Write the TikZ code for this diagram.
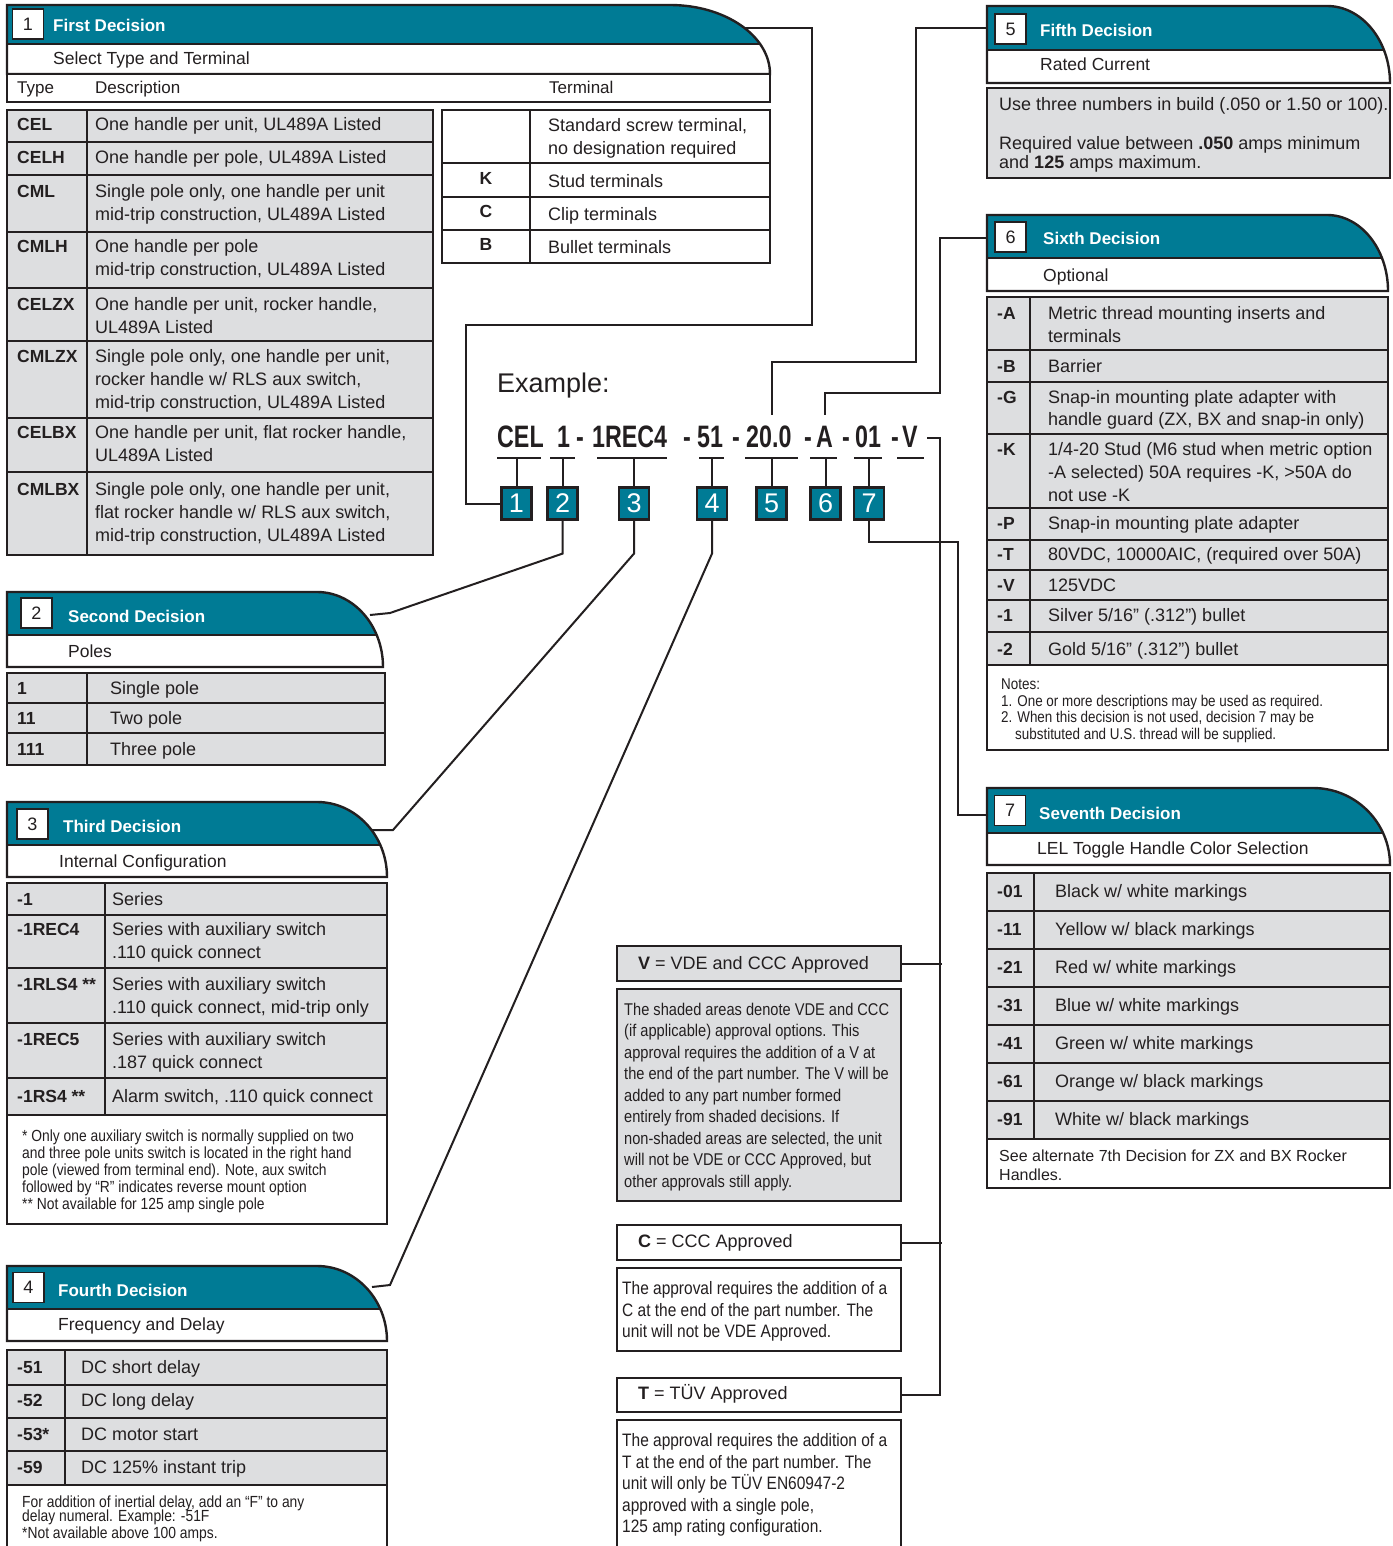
\documentclass[tikz,border=0pt]{standalone}
\usepackage{fontspec}
\setmainfont{Liberation Sans}
\newfontfamily\narrowfont[FakeStretch=0.86]{Liberation Sans}
\newfontfamily\condfont[FakeStretch=0.75]{Liberation Sans}
\definecolor{decteal}{RGB}{0,123,149}
\definecolor{cellgray}{RGB}{221,222,224}
\definecolor{ink}{RGB}{35,31,32}
\tikzset{
 outer/.style={draw=ink, line width=2.4pt},
 rule/.style={draw=ink, line width=1.3pt},
 conn/.style={draw=ink, line width=2pt},
 txt/.style={anchor=base west, inner sep=0pt, text=ink, font=\fontsize{18}{22}\selectfont},
 code/.style={txt, font=\fontsize{17.5}{22}\selectfont\bfseries},
 ttl/.style={txt, text=white, font=\fontsize{17}{20}\selectfont\bfseries},
 sub/.style={txt, font=\fontsize{17.5}{20}\selectfont},
 note/.style={txt, font=\narrowfont\fontsize{16.1}{18}\selectfont},
 desc/.style={txt, font=\narrowfont\fontsize{18}{21}\selectfont},
 vdesc/.style={txt, font=\narrowfont\fontsize{17}{21}\selectfont},
 numbox/.style={draw=ink, line width=1.2pt, fill=white, minimum width=31pt, minimum height=30pt, inner sep=0pt, text=ink, font=\fontsize{18}{18}\selectfont},
 exbox/.style={draw=ink, line width=2.2pt, fill=decteal, minimum width=30pt, minimum height=32pt, inner sep=0pt, text=white, font=\fontsize{27}{27}\selectfont},
 pn/.style={txt, font=\condfont\bfseries\fontsize{31}{31}\selectfont},
 mbox/.style={draw=ink, line width=2.4pt, anchor=north west, inner sep=0pt, minimum width=284pt},
}
\newcounter{tn}
\newcommand\ptxt[4][]{\stepcounter{tn}\node[txt,#1] (tx\arabic{tn}) at (#2,#3) {#4};}
% header: x1, ytop, x2, yteal, ybottom, rx
\newcommand\dechead[6]{%
 \fill[white] (#1,#2) -- ({#3-#6},#2) .. controls ({#3-0.448*#6},#2) and (#3,{#5-0.552*(#5-#2)}) .. (#3,#5) -- (#1,#5) -- cycle;
 \begin{scope}
 \clip (#1,#2) -- ({#3-#6},#2) .. controls ({#3-0.448*#6},#2) and (#3,{#5-0.552*(#5-#2)}) .. (#3,#5) -- (#1,#5) -- cycle;
 \fill[decteal] (#1,#2) rectangle (#3,#4);
 \draw[outer] (#1,#4) -- (#3,#4);
 \end{scope}
 \draw[outer] (#1,#2) -- ({#3-#6},#2) .. controls ({#3-0.448*#6},#2) and (#3,{#5-0.552*(#5-#2)}) .. (#3,#5) -- (#1,#5) -- cycle;
}
\newcommand\gtab[4]{\fill[cellgray] (#1,#2) rectangle (#3,#4);}
\begin{document}
\begin{tikzpicture}[x=1pt,y=-1pt]
\useasboundingbox (0,0) rectangle (1392,1546);
\clip (0,0) rectangle (1392,1546);
\fill[white] (0,0) rectangle (1392,1546);

% ---------- example part number ----------
\ptxt[font=\fontsize{27}{27}\selectfont]{497}{392}{Example:}
\ptxt[pn]{497}{447}{CEL}
\ptxt[pn]{557}{447}{1}
\ptxt[pn]{576}{447}{-}
\ptxt[pn]{592}{447}{1REC4}
\ptxt[pn]{683}{447}{-}
\ptxt[pn]{697}{447}{51}
\ptxt[pn]{732}{447}{-}
\ptxt[pn]{746}{447}{20.0}
\ptxt[pn]{804}{447}{-}
\ptxt[pn]{816}{447}{A}
\ptxt[pn]{842}{447}{-}
\ptxt[pn]{855}{447}{01}
\ptxt[pn]{891}{447}{-}
\ptxt[pn]{902}{447}{V}
\foreach \a/\b in {497/541,550/575,597/667,699/724,745/798,810/837,854/882,897/924}
  \draw[conn] (\a,458) -- (\b,458);

\node[exbox] (b1) at (516.5,503.5) {1};
\node[exbox] (b2) at (562.5,503.5) {2};
\node[exbox] (b3) at (634,503.5) {3};
\node[exbox] (b4) at (712,503.5) {4};
\node[exbox] (b5) at (771.5,503.5) {5};
\node[exbox] (b6) at (825.5,503.5) {6};
\node[exbox] (b7) at (869,503.5) {7};
\foreach \n in {1,...,7} \draw[conn] (b\n.north) -- ++(0,-29);

% ---------- middle approval boxes ----------
\node[mbox, fill=cellgray, minimum height=35pt] (vbox) at (616,945) {};
\node[mbox, fill=cellgray, minimum height=212pt] (vdesc) at (616,988) {};
\node[mbox, fill=white, minimum height=35pt] (cbox) at (616,1224) {};
\node[mbox, fill=white, minimum height=83pt] (cdesc) at (616,1267) {};
\node[mbox, fill=white, minimum height=34pt] (tbox) at (616,1377) {};
\node[mbox, fill=white, minimum height=160pt] (tdesc) at (616,1419) {};

% ---------- connector end points inside panels ----------
\coordinate (p1in) at (740,28);
\coordinate (p2in) at (370,615);
\coordinate (p3in) at (372,830);
\coordinate (p4in) at (372,1287);
\coordinate (p5in) at (992,28);
\coordinate (p6in) at (992,238);
\coordinate (p7in) at (992,815);
\coordinate (u5) at (772,415);
\coordinate (u6) at (825,415);
\coordinate (vend) at (927,438);

% ---------- connectors ----------
\draw[conn] (b1.west) -| (466,325) -| (812,28) -- (p1in);
\draw[conn] (b2.south) -- ++(0,33) -- (390,613) -- (p2in);
\draw[conn] (b3.south) -- ++(0,33) -- (393,830) -- (p3in);
\draw[conn] (b4.south) -- ++(0,33) -- (390,1285) -- (p4in);
\draw[conn] (p5in) -| (916,362) -| (u5);
\draw[conn] (p6in) -| (940,393) -| (u6);
\draw[conn] (b7.south) -- ++(0,21) -| (958,815) -- (p7in);
\draw[conn] (vend) -- (940,438) |- (tbox.east);
\draw[conn] (vbox.east) -- ++(40,0);
\draw[conn] (cbox.east) -- ++(40,0);

% ---------- Panel 1 ----------
\dechead{7}{5}{770}{44}{74}{100}
\node[numbox] (h1) at (28,24) {1};
\ptxt[ttl]{53}{32}{First Decision}
\ptxt[sub]{53}{65}{Select Type and Terminal}
\fill[white] (7,74) rectangle (770,102);
\draw[outer] (7,74) rectangle (770,102);
\ptxt[font=\fontsize{17}{20}\selectfont]{17}{94}{Type}
\ptxt[font=\fontsize{17}{20}\selectfont]{95}{94}{Description}
\ptxt[font=\fontsize{17}{20}\selectfont]{549}{94}{Terminal}

\gtab{7}{110}{433}{555}
\foreach \y in {142,175,232,288,341,418,472} \draw[rule] (7,\y) -- (433,\y);
\draw[rule] (87,110) -- (87,555);
\draw[outer] (7,110) rectangle (433,555);
\ptxt[code]{17}{131}{CEL} \ptxt{95}{131}{One handle per unit, UL489A Listed}
\ptxt[code]{17}{164}{CELH} \ptxt{95}{164}{One handle per pole, UL489A Listed}
\ptxt[code]{17}{198}{CML} \ptxt{95}{198}{Single pole only, one handle per unit}
\ptxt{95}{221}{mid-trip construction, UL489A Listed}
\ptxt[code]{17}{253}{CMLH} \ptxt{95}{253}{One handle per pole}
\ptxt{95}{276}{mid-trip construction, UL489A Listed}
\ptxt[code]{17}{310}{CELZX} \ptxt{95}{310}{One handle per unit, rocker handle,}
\ptxt{95}{333}{UL489A Listed}
\ptxt[code]{17}{362}{CMLZX} \ptxt{95}{362}{Single pole only, one handle per unit,}
\ptxt{95}{385}{rocker handle w/ RLS aux switch,}
\ptxt{95}{408}{mid-trip construction, UL489A Listed}
\ptxt[code]{17}{438}{CELBX} \ptxt{95}{438}{One handle per unit, flat rocker handle,}
\ptxt{95}{461}{UL489A Listed}
\ptxt[code]{17}{495}{CMLBX} \ptxt{95}{495}{Single pole only, one handle per unit,}
\ptxt{95}{518}{flat rocker handle w/ RLS aux switch,}
\ptxt{95}{541}{mid-trip construction, UL489A Listed}

\fill[white] (442,110) rectangle (770,263);
\foreach \y in {163,197,230} \draw[rule] (442,\y) -- (770,\y);
\draw[rule] (530,110) -- (530,263);
\draw[outer] (442,110) rectangle (770,263);
\ptxt{548}{132}{Standard screw terminal,}
\ptxt{548}{155}{no designation required}
\ptxt[code,anchor=base]{486}{185}{K} \ptxt{548}{188}{Stud terminals}
\ptxt[code,anchor=base]{486}{218}{C} \ptxt{548}{221}{Clip terminals}
\ptxt[code,anchor=base]{486}{251}{B} \ptxt{548}{254}{Bullet terminals}

% ---------- Panel 2 ----------
\dechead{7}{592}{383}{635}{667}{66}
\node[numbox] (h2) at (36.5,613) {2};
\ptxt[ttl]{68}{622}{Second Decision}
\ptxt[sub]{68}{657}{Poles}
\gtab{7}{673}{385}{765}
\foreach \y in {703,733} \draw[rule] (7,\y) -- (385,\y);
\draw[rule] (87,673) -- (87,765);
\draw[outer] (7,673) rectangle (385,765);
\ptxt[code]{17}{694}{1} \ptxt{110}{694}{Single pole}
\ptxt[code]{17}{724}{11} \ptxt{110}{724}{Two pole}
\ptxt[code]{17}{755}{111} \ptxt{110}{755}{Three pole}

% ---------- Panel 3 ----------
\dechead{7}{802}{387}{845}{877}{70}
\node[numbox] (h3) at (32.5,824) {3};
\ptxt[ttl]{63}{832}{Third Decision}
\ptxt[sub]{59}{867}{Internal Configuration}
\fill[white] (7,883) rectangle (387,1224);
\gtab{7}{883}{387}{1115}
\foreach \y in {915,968,1023,1078,1115} \draw[rule] (7,\y) -- (387,\y);
\draw[rule] (105,883) -- (105,1115);
\draw[outer] (7,883) rectangle (387,1224);
\ptxt[code]{17}{905}{-1} \ptxt{112}{905}{Series}
\ptxt[code]{17}{935}{-1REC4} \ptxt{112}{935}{Series with auxiliary switch}
\ptxt{112}{958}{.110 quick connect}
\ptxt[code]{17}{990}{-1RLS4 **} \ptxt{112}{990}{Series with auxiliary switch}
\ptxt{112}{1013}{.110 quick connect, mid-trip only}
\ptxt[code]{17}{1045}{-1REC5} \ptxt{112}{1045}{Series with auxiliary switch}
\ptxt{112}{1068}{.187 quick connect}
\ptxt[code]{17}{1102}{-1RS4 **} \ptxt{112}{1102}{Alarm switch, .110 quick connect}
\ptxt[note]{22}{1141}{* Only one auxiliary switch is normally supplied on two}
\ptxt[note]{22}{1158}{and three pole units switch is located in the right hand}
\ptxt[note]{22}{1175}{pole (viewed from terminal end).  Note, aux switch}
\ptxt[note]{22}{1192}{followed by “R” indicates reverse mount option}
\ptxt[note]{22}{1209}{** Not available for 125 amp single pole}

% ---------- Panel 4 ----------
\dechead{7}{1266}{387}{1309}{1341}{70}
\node[numbox] (h4) at (28.5,1287.5) {4};
\ptxt[ttl]{58}{1296}{Fourth Decision}
\ptxt[sub]{58}{1330}{Frequency and Delay}
\fill[white] (7,1350) rectangle (387,1560);
\gtab{7}{1350}{387}{1485}
\foreach \y in {1385,1418,1451,1485} \draw[rule] (7,\y) -- (387,\y);
\draw[rule] (65,1350) -- (65,1485);
\draw[outer] (7,1350) rectangle (387,1560);
\ptxt[code]{17}{1373}{-51} \ptxt{81}{1373}{DC short delay}
\ptxt[code]{17}{1406}{-52} \ptxt{81}{1406}{DC long delay}
\ptxt[code]{17}{1440}{-53*} \ptxt{81}{1440}{DC motor start}
\ptxt[code]{17}{1473}{-59} \ptxt{81}{1473}{DC 125\% instant trip}
\ptxt[note]{22}{1507}{For addition of inertial delay, add an “F” to any}
\ptxt[note]{22}{1521}{delay numeral.  Example:  -51F}
\ptxt[note]{22}{1538}{*Not available above 100 amps.}

% ---------- Panel 5 ----------
\dechead{987}{6}{1390}{50}{83}{63}
\node[numbox] (h5) at (1010.5,29) {5};
\ptxt[ttl]{1040}{37}{Fifth Decision}
\ptxt[sub]{1040}{71}{Rated Current}
\gtab{987}{88}{1390}{178}
\draw[outer] (987,88) rectangle (1390,178);
\ptxt{999}{111}{Use three numbers in build (.050 or 1.50 or 100).}
\ptxt{999}{150}{Required value between \textbf{.050} amps minimum}
\ptxt{999}{169}{and \textbf{125} amps maximum.}

% ---------- Panel 6 ----------
\dechead{987}{215}{1388}{258}{291}{61}
\node[numbox] (h6) at (1010.5,237) {6};
\ptxt[ttl]{1043}{245}{Sixth Decision}
\ptxt[sub]{1043}{281}{Optional}
\fill[white] (987,297) rectangle (1388,750);
\gtab{987}{297}{1388}{665}
\foreach \y in {350,382,434,508,540,570,600,632,665} \draw[rule] (987,\y) -- (1388,\y);
\draw[rule] (1030,297) -- (1030,665);
\draw[outer] (987,297) rectangle (1388,750);
\ptxt[code]{997}{319}{-A} \ptxt{1048}{319}{Metric thread mounting inserts and}
\ptxt{1048}{342}{terminals}
\ptxt[code]{997}{372}{-B} \ptxt{1048}{372}{Barrier}
\ptxt[code]{997}{403}{-G} \ptxt{1048}{403}{Snap-in mounting plate adapter with}
\ptxt{1048}{425}{handle guard (ZX, BX and snap-in only)}
\ptxt[code]{997}{455}{-K} \ptxt{1048}{455}{1/4-20 Stud (M6 stud when metric option}
\ptxt{1048}{478}{-A selected)  50A requires -K, >50A do}
\ptxt{1048}{501}{not use -K}
\ptxt[code]{997}{529}{-P} \ptxt{1048}{529}{Snap-in mounting plate adapter}
\ptxt[code]{997}{560}{-T} \ptxt{1048}{560}{80VDC, 10000AIC,  (required over 50A)}
\ptxt[code]{997}{591}{-V} \ptxt{1048}{591}{125VDC}
\ptxt[code]{997}{621}{-1} \ptxt{1048}{621}{Silver 5/16” (.312”) bullet}
\ptxt[code]{997}{655}{-2} \ptxt{1048}{655}{Gold 5/16” (.312”) bullet}
\ptxt[note,font=\narrowfont\fontsize{15.6}{18}\selectfont]{1001}{689}{Notes:}
\ptxt[note,font=\narrowfont\fontsize{15.6}{18}\selectfont]{1001}{706}{1. One or more descriptions may be used as required.}
\ptxt[note,font=\narrowfont\fontsize{15.6}{18}\selectfont]{1001}{722}{2. When this decision is not used, decision 7 may be}
\ptxt[note,font=\narrowfont\fontsize{15.6}{18}\selectfont]{1015}{739}{substituted and U.S. thread will be supplied.}

% ---------- Panel 7 ----------
\dechead{987}{788}{1390}{833}{865}{77}
\node[numbox] (h7) at (1010,810.5) {7};
\ptxt[ttl]{1039}{819}{Seventh Decision}
\ptxt[sub]{1037}{854}{LEL Toggle Handle Color Selection}
\fill[white] (987,873) rectangle (1390,1188);
\gtab{987}{873}{1390}{1139}
\foreach \y in {911,949,987,1025,1063,1101,1139} \draw[rule] (987,\y) -- (1390,\y);
\draw[rule] (1034,873) -- (1034,1139);
\draw[outer] (987,873) rectangle (1390,1188);
\ptxt[code]{997}{897}{-01} \ptxt{1055}{897}{Black w/ white markings}
\ptxt[code]{997}{935}{-11} \ptxt{1055}{935}{Yellow w/ black markings}
\ptxt[code]{997}{973}{-21} \ptxt{1055}{973}{Red w/ white markings}
\ptxt[code]{997}{1011}{-31} \ptxt{1055}{1011}{Blue w/ white markings}
\ptxt[code]{997}{1049}{-41} \ptxt{1055}{1049}{Green w/ white markings}
\ptxt[code]{997}{1087}{-61} \ptxt{1055}{1087}{Orange w/ black markings}
\ptxt[code]{997}{1125}{-91} \ptxt{1055}{1125}{White w/ black markings}
\ptxt[font=\fontsize{16}{19}\selectfont]{999}{1161}{See alternate 7th Decision for ZX and BX Rocker}
\ptxt[font=\fontsize{16}{19}\selectfont]{999}{1180}{Handles.}

% ---------- middle texts ----------
\ptxt{638}{969}{\textbf{V} = VDE and CCC Approved}
\ptxt[vdesc]{624}{1015}{The shaded areas denote VDE and CCC}
\ptxt[vdesc]{624}{1036.5}{(if applicable) approval options. This}
\ptxt[vdesc]{624}{1058}{approval requires the addition of a V at}
\ptxt[vdesc]{624}{1079.5}{the end of the part number. The V will be}
\ptxt[vdesc]{624}{1101}{added to any part number formed}
\ptxt[vdesc]{624}{1122.5}{entirely from shaded decisions.  If}
\ptxt[vdesc]{624}{1144}{non-shaded areas are selected, the unit}
\ptxt[vdesc]{624}{1165.5}{will not be VDE or CCC Approved, but}
\ptxt[vdesc]{624}{1187}{other approvals still apply.}
\ptxt{638}{1247}{\textbf{C} = CCC Approved}
\ptxt[desc]{622}{1294}{The approval requires the addition of a}
\ptxt[desc]{622}{1316}{C at the end of the part number. The}
\ptxt[desc]{622}{1337}{unit will not be VDE Approved.}
\ptxt{638}{1399}{\textbf{T} = TÜV Approved}
\ptxt[desc]{622}{1446}{The approval requires the addition of a}
\ptxt[desc]{622}{1468}{T at the end of the part number. The}
\ptxt[desc]{622}{1489}{unit will only be TÜV EN60947-2}
\ptxt[desc]{622}{1511}{approved with a single pole,}
\ptxt[desc]{622}{1532}{125 amp rating configuration.}
\end{tikzpicture}
\end{document}
